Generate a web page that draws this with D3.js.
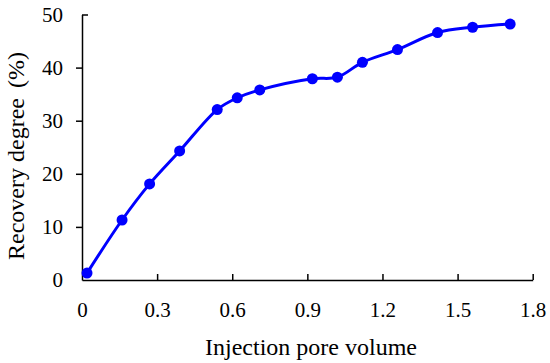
<!DOCTYPE html>
<html>
<head>
<meta charset="utf-8">
<script src="https://cdn.jsdelivr.net/npm/d3@7"></script>
<style>
  body { margin: 0; background: #fff; }
  svg { display: block; }
  svg text { font-family: "Liberation Serif", "Times New Roman", serif !important; }
</style>
</head>
<body>
<script>
// values
const injectionPV = [0.02, 0.16, 0.27, 0.39, 0.54, 0.62, 0.71, 0.92, 1.02, 1.12, 1.26, 1.42, 1.56, 1.71]
const recovery = [1.3, 11.3, 18.1, 24.3, 32.1, 34.3, 35.8, 37.9, 38.2, 41.0, 43.4, 46.6, 47.6, 48.2]
const xTicks = [0, 0.3, 0.6, 0.9, 1.2, 1.5, 1.8]
const yTicks = [0, 10, 20, 30, 40, 50]

const w = 550
const h = 363
const padLeft = 82, padRight = 532.7, padTop = 14.5, padBottom = 280

const points = injectionPV.map((x, i) => ({ x: x, y: recovery[i] }))

const svg = d3.select('body')
    .append('svg')
    .attr('width', w)
    .attr('height', h)

const xScale = d3.scaleLinear()
    .domain([0, 1.8])
    .range([padLeft, padRight])

const yScale = d3.scaleLinear()
    .domain([0, 50])
    .range([padBottom, padTop])

// x axis, ticks pointing up into the plot
const xAxis = svg.append('g')
    .attr('transform', `translate(0,${padBottom})`)
    .call(d3.axisBottom(xScale)
        .tickValues(xTicks)
        .tickFormat(d => d === 0 ? '0' : d3.format('.1f')(d))
        .tickSize(-6)
        .tickSizeOuter(0)
        .tickPadding(0))
    .attr('font-size', 21)
xAxis.select('.domain').attr('stroke-width', 1.5)
xAxis.selectAll('.tick line').attr('stroke-width', 1.5)
    .attr('display', d => d === 0 ? 'none' : null)
xAxis.selectAll('.tick text')
    .attr('y', 37)
    .attr('dy', null)
    .attr('fill', '#000')

// y axis, ticks outside, top cap points inward
const yAxis = svg.append('g')
    .attr('transform', `translate(${padLeft},0)`)
    .call(d3.axisLeft(yScale)
        .tickValues(yTicks)
        .tickFormat(d3.format('d'))
        .tickSize(6)
        .tickSizeOuter(0)
        .tickPadding(0))
    .attr('font-size', 21)
yAxis.select('.domain').attr('stroke-width', 1.5)
yAxis.selectAll('.tick line').attr('stroke-width', 1.5)
    .attr('display', d => d === 0 ? 'none' : null)
    .attr('x2', d => d === 50 ? 6 : -6)
yAxis.selectAll('.tick text')
    .attr('x', -19)
    .attr('fill', '#000')

// curve
const line = d3.line()
    .x(d => xScale(d.x))
    .y(d => yScale(d.y))
    .curve(d3.curveCatmullRom.alpha(0.5))

svg.append('path')
    .datum(points)
    .attr('d', line)
    .attr('fill', 'none')
    .attr('stroke', '#0000ff')
    .attr('stroke-width', 3)

svg.selectAll('circle')
    .data(points)
    .enter()
    .append('circle')
    .attr('cx', d => xScale(d.x))
    .attr('cy', d => yScale(d.y))
    .attr('r', 5.5)
    .attr('fill', '#0000ff')

// axis titles
svg.append('text')
    .attr('x', 311)
    .attr('y', 355)
    .attr('text-anchor', 'middle')
    .attr('font-size', 24)
    .text('Injection pore volume')

const yTitle = svg.append('text')
    .attr('transform', 'translate(24,156) rotate(-90)')
    .attr('text-anchor', 'middle')
    .attr('font-size', 24)
yTitle.append('tspan').text('Recovery degree')
yTitle.append('tspan').attr('dx', 10).text('(%)')
</script>
</body>
</html>
